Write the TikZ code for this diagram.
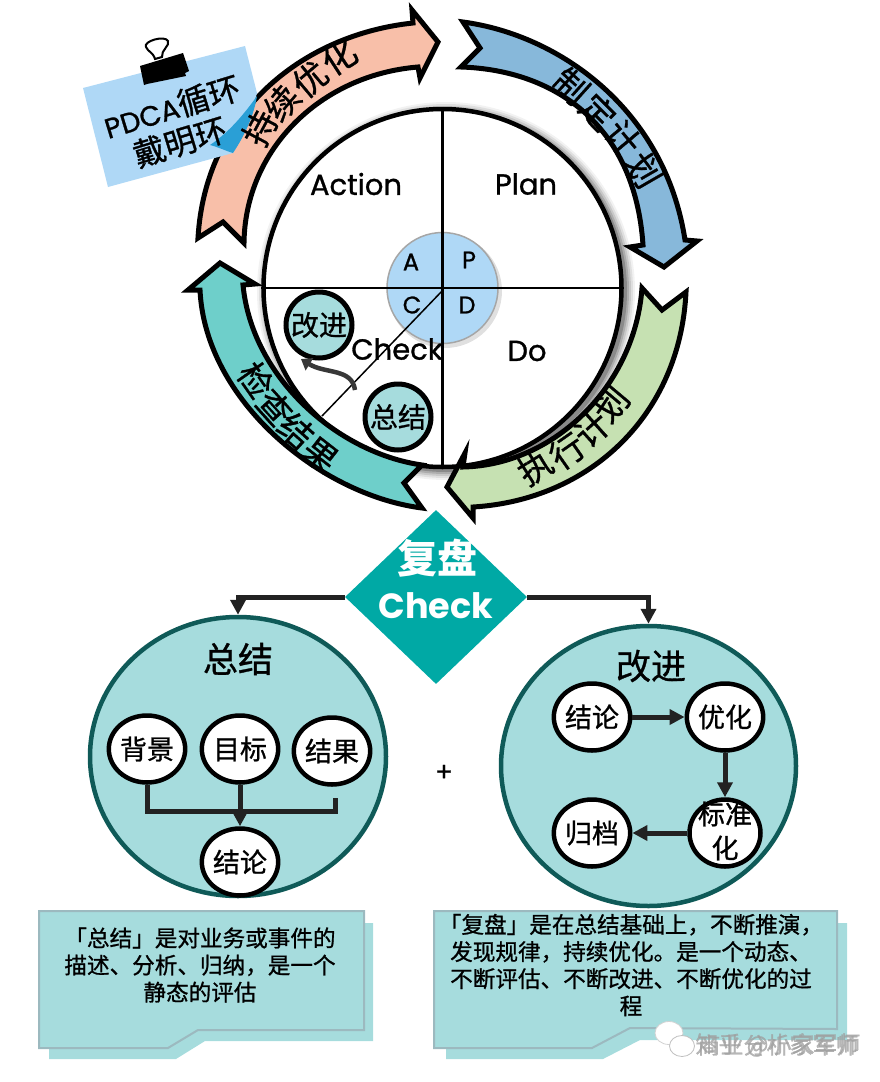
\documentclass[tikz,border=0pt]{standalone}
\usepackage{fontspec}
\usetikzlibrary{arrows.meta,shapes.geometric,calc}
\setmainfont{Poppins}[FakeBold=1]
\newfontfamily\cjk{Noto Sans CJK SC}[FakeBold=0.9]
\newfontfamily\heavycjk{Noto Sans CJK SC}
\newfontfamily\heavylat{Poppins}
\newcommand{\fs}[1]{\fontsize{#1}{#1}\selectfont}
\definecolor{peach}{HTML}{F8BFA9}
\definecolor{ribblue}{HTML}{87B8DA}
\definecolor{ribgreen}{HTML}{C6E1B2}
\definecolor{ribteal}{HTML}{6ECFCA}
\definecolor{sky}{HTML}{AFD8F6}
\definecolor{curl}{HTML}{2A9FD6}
\definecolor{pale}{HTML}{A6DCDD}
\definecolor{deep}{HTML}{0F5A58}
\definecolor{dia}{HTML}{00A9A5}
\definecolor{ink}{HTML}{222222}
\definecolor{edge}{HTML}{9CB9BF}
\tikzset{
  x=1pt,y=-1pt,
  ribbon/.style={draw=black,line width=5pt,line join=miter,miter limit=10},
  rtext/.style={inner sep=0pt,font=\cjk\fs{34}},
  quad/.style={inner sep=0pt,font=\fs{29}},
  letter/.style={inner sep=0pt,font=\fs{24}},
  mini/.style={circle,draw=black,line width=5pt,fill=pale,minimum size=66pt,inner sep=0pt,font=\cjk\fs{28}},
  big/.style={ellipse,draw=deep,line width=4.5pt,fill=pale,inner sep=0pt},
  small/.style={ellipse,draw=black,line width=4.5pt,fill=white,minimum width=71pt,minimum height=67pt,inner sep=0pt,font=\cjk\fs{27},align=center},
  title/.style={inner sep=0pt,font=\cjk\fs{35}},
  conn/.style={draw=ink,line width=5pt,-{Triangle[length=15pt,width=15pt]}},
  plain/.style={draw=ink,line width=5pt},
  note/.style={fill=pale,draw=edge,line width=2pt},
  notetext/.style={inner sep=0pt,font=\cjk\fs{22.6},align=center},
  mark1/.style={inner sep=0pt,font=\cjk\fs{23},text=gray!75,opacity=.75},
}
\begin{document}
\begin{tikzpicture}
\useasboundingbox (0,0) rectangle (880,1082);
% main circle shadow
\foreach \r/\o in {189/.05,187/.08,185/.1,183/.14,181/.2}{
  \fill[black,opacity=\o] (446,291) circle[radius=\r];
}
\node[circle,draw=black,line width=4.5pt,fill=white,minimum size=358pt,inner sep=0pt] (main) at (442.5,288) {};
\coordinate (hub) at (443,290);
% small hub
\fill[black,opacity=.12] (445,291) circle[radius=57];
\node[circle,fill=sky,draw=gray!70,line width=1.5pt,minimum size=111pt,inner sep=0pt] (core) at (442.5,288) {};
\draw[line width=2.5pt,black] (main.west) -- (main.east);
\draw[line width=2.5pt,black] (main.north) -- (main.south);
\coordinate (diag) at (322,416);
\draw[line width=1.5pt,black] (hub) -- (diag);
% labels
\node[quad] (lAct) at (356,184) {Action};
\node[quad] (lPlan) at (526,184) {Plan};
\node[quad] (lDo) at (527,351) {Do};
\node[quad] (lChk) at (397,349) {Check};
\node[letter] (la) at (411,262) {A};
\node[letter] (lp) at (469,260) {P};
\node[letter] (lc) at (412,305) {C};
\node[letter] (ld) at (467,305) {D};
\node[mini] (gj) at (319,325) {改进};
\node[mini] (zj) at (398,417) {总结};
\coordinate (cur) at (355,390);
\draw[draw=ink!90,line width=4.5pt,-{Triangle[length=10pt,width=14pt]}]
  (cur) .. controls (352,368) and (325,374) .. (301,359);
% ribbons
\draw[ribbon,fill=peach] (198,238) .. controls (205,115) and (300,35) .. (413,23)
  -- (412,10) -- (438,42) -- (420,78) -- (418,67)
  .. controls (320,75) and (245,150) .. (244,243)
  -- (223,222) -- cycle;
\draw[ribbon,fill=ribblue] (463,22) .. controls (560,35) and (665,110) .. (685,240)
  -- (697,241) -- (664,267) -- (630,247) -- (643,245)
  .. controls (635,125) and (555,70) .. (461,67)
  -- (480,48) -- cycle;
\draw[ribbon,fill=ribgreen] (686,292) .. controls (680,415) and (590,500) .. (473,507)
  -- (473,518) -- (447,487) -- (465,453) -- (463,467)
  .. controls (555,465) and (635,385) .. (642,288)
  -- (662,310) -- cycle;
\draw[ribbon,fill=ribteal] (422,508) .. controls (320,495) and (205,400) .. (200,290)
  -- (188,290) -- (220,263) -- (255,284) -- (243,285)
  .. controls (252,378) and (338,453) .. (422,465)
  -- (404,483) -- cycle;
% paper
\fill[sky] (83,88) -- (245,46) -- (257,93) .. controls (248,125) and (240,140) .. (233,153) -- (108,187) -- cycle;
\fill[curl] (257,96) .. controls (240,120) and (225,135) .. (210,145) .. controls (218,147) and (226,151) .. (233,153) .. controls (245,135) and (254,115) .. (257,96) -- cycle;
% binder clip
\draw[black,line width=2pt,fill=white] (146,47) .. controls (143,41) and (165,35) .. (168,41) .. controls (170,46) and (161,50) .. (162,57) -- (155,59) .. controls (153,52) and (148,52) .. (146,47) -- cycle;
\fill[black] (140,66) -- (183,53) -- (189,71) -- (185,73) -- (186,76) -- (147,84) -- (144,85) -- cycle;
\node[inner sep=0pt,rotate=17] (p1) at (172,107) {\fs{28}PDCA\cjk\fs{32}循环};
\node[inner sep=0pt,rotate=17,font=\cjk\fs{32}] (p2) at (180,142) {戴明环};
% ribbon text
\node[rtext,rotate=62] (a1) at (260,128) {持};
\node[rtext,rotate=50] (a2) at (282,103) {续};
\node[rtext,rotate=40] (a3) at (310,79) {优};
\node[rtext,rotate=33] (a4) at (339,57) {化};
\node[rtext,rotate=-42] (b1) at (571,86) {制};
\node[rtext,rotate=-45] (b2) at (598,112) {定};
\node[rtext,rotate=-50] (b3) at (623,138) {计};
\node[rtext,rotate=-60] (b4) at (644,170) {划};
\node[rtext,rotate=32] (c1) at (535,467) {执};
\node[rtext,rotate=35] (c2) at (567,451) {行};
\node[rtext,rotate=42] (c3) at (592,429) {计};
\node[rtext,rotate=50] (c4) at (611,404) {划};
\node[rtext,rotate=-55] (d1) at (256,380) {检};
\node[rtext,rotate=-48] (d2) at (275,407) {查};
\node[rtext,rotate=-42] (d3) at (296,431) {结};
\node[rtext,rotate=-38] (d4) at (320,455) {果};
% check diamond
\node[diamond,fill=dia,minimum width=182pt,minimum height=174pt,inner sep=0pt,aspect=1.04] (chk) at (436,597) {};
\node[inner sep=0pt,text=white,font=\heavycjk\bfseries\fs{40}] (t1) at (437,558) {复盘};
\node[inner sep=0pt,text=white,font=\heavylat\bfseries\fs{35}] (t2) at (436,606) {Check};
% big circles
\node[big,minimum width=296pt,minimum height=279pt] (L) at (238,756.5) {};
\node[big,minimum width=295pt,minimum height=280pt] (R) at (648.5,766) {};
\draw[conn] (chk.west) -| (L.north);
\draw[conn] (chk.east) -| (R.north);
\node[title] (tl) at (238,659) {总结};
\node[title] (tr) at (651,666) {改进};
\node[small] (bg) at (147,749) {背景};
\node[small] (mb) at (240,749) {目标};
\node[small] (jg) at (332,751) {结果};
\node[small] (jl) at (240,862) {结论};
\coordinate (join1) at (147,811);
\coordinate (join2) at (335,811);
\coordinate (stub) at (335,798);
\draw[plain,line join=miter] (bg.south) -- (join1) -- (join2) -- (stub);
\draw[conn] (mb.south) -- (jl.north);
\node[small] (rjl) at (592,717) {结论};
\node[small] (ryh) at (725,717) {优化};
\node[small] (rbz) at (725,833) {};
\node[inner sep=0pt,font=\cjk\fs{27}] (rbz1) at (725,814) {标准};
\node[inner sep=0pt,font=\cjk\fs{27}] (rbz2) at (725,848) {化};
\node[small] (rgd) at (592,833) {归档};
\draw[conn] (rjl) -- (ryh);
\draw[conn] (ryh) -- (rbz);
\draw[conn] (rbz) -- (rgd);
\node[inner sep=0pt,font=\fs{26}] (plus) at (444,773) {+};
% notes
\fill[pale] (49,923) -- (373,923) -- (373,1041) -- (205,1041) -- (176,1059) -- (49,1059) -- cycle;
\draw[note] (39,911) -- (364,911) -- (364,1030) -- (198,1030) -- (168,1048) -- (39,1048) -- cycle;
\fill[pale] (446,923) -- (847,923) -- (847,1040) -- (640,1040) -- (603,1059) -- (446,1059) -- cycle;
\draw[note] (434,911) -- (837,911) -- (837,1029) -- (630,1028) -- (592,1048) -- (434,1048) -- cycle;
\node[notetext] (n1) at (200,965) {「总结」是对业务或事件的\\[4.5pt]描述、分析、归纳，是一个\\[4.5pt]静态的评估};
\node[notetext] (n2) at (631,965) {「复盘」是在总结基础上，不断推演，\\[4.5pt]发现规律，持续优化。是一个动态、\\[4.5pt]不断评估、不断改进、不断优化的过\\[4.5pt]程};
% watermark
\fill[white,draw=gray!35,line width=.8pt] (669,1033) ellipse[x radius=14,y radius=11.5];
\fill[white,draw=gray!50,line width=.8pt] (682,1046) ellipse[x radius=12.5,y radius=10.5];
\node[mark1] (w1) at (778,1045) {商业分析家军师};
\node[mark1] (w2) at (778,1045) {知乎 @小家军师};
\end{tikzpicture}
\end{document}
